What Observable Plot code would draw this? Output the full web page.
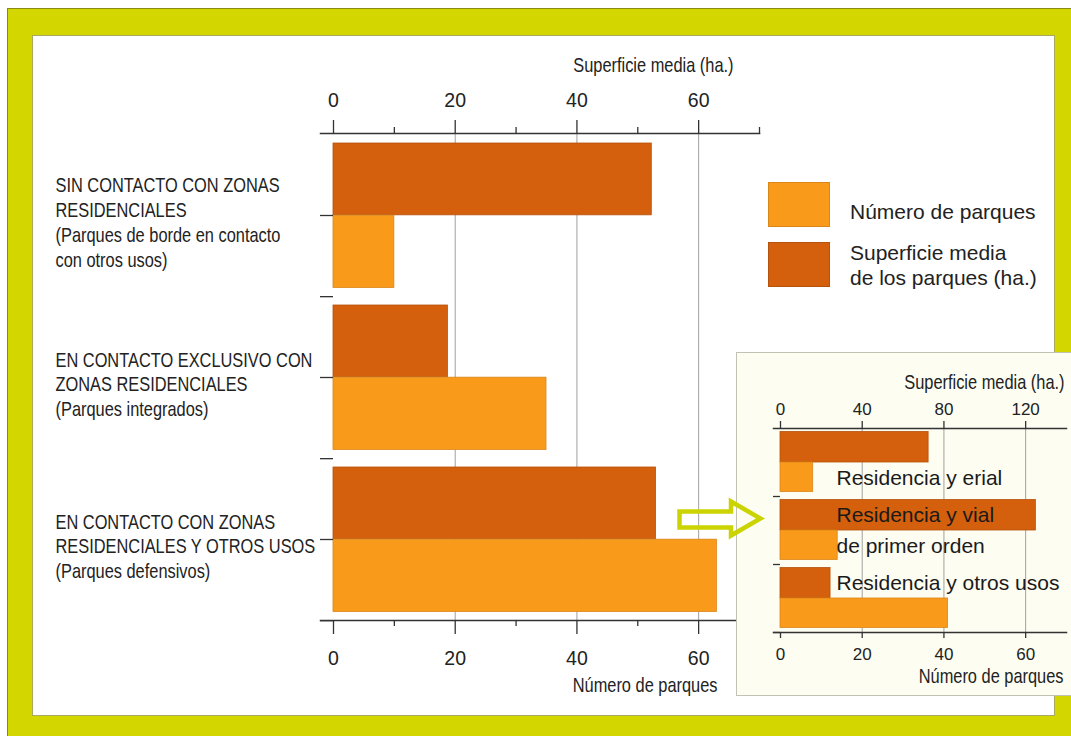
<!DOCTYPE html>
<html>
<head>
<meta charset="utf-8">
<script src="https://cdn.jsdelivr.net/npm/d3@7"></script>
<script src="https://cdn.jsdelivr.net/npm/@observablehq/plot@0.6"></script>
<style>
html, body { margin: 0; padding: 0; background: #fff; }
#page { position: relative; width: 1071px; height: 736px; overflow: hidden;
  font-family: "Liberation Sans", Arial, sans-serif; color: #222; }
.abs { position: absolute; box-sizing: border-box; }
#frame { left: 7px; top: 8px; width: 1064px; height: 728px; background: #d4d600;
  border-top: 1px solid #8a8a10; border-left: 1px solid #8a8a10; }
#panel { left: 32px; top: 35px; width: 1023px; height: 681px; background: #fff;
  border: 1px solid #a8a860; }
#insetbox { left: 736px; top: 352px; width: 340px; height: 344px; background: #fdfdf2;
  border: 1px solid #c2c2b2; }
.layer { position: absolute; left: 0; top: 0; }
.legtext { position: absolute; font-size: 21px; line-height: 25px; color: #222; white-space: nowrap; }
</style>
</head>
<body>
<div id="page">
  <div id="frame" class="abs"></div>
  <div id="panel" class="abs"></div>
  <div id="mainLayer" class="layer"></div>
  <div id="legend" class="layer"></div>
  <div id="insetbox" class="abs"></div>
  <div id="insetLayer" class="layer"></div>
  <svg class="layer" width="1071" height="736" style="pointer-events:none">
    <path d="M679.5,511.5 L731,511.5 L731,501.5 L760.5,518.5 L731,535.5 L731,527.5 L679.5,527.5 Z"
      fill="none" stroke="#cbd400" stroke-width="4.5" stroke-linejoin="miter"/>
  </svg>
</div>
<script>
// ---------- data: main chart ----------
const categories = ["sin", "exclusivo", "mixto"];
const categoryLabels = [
  "SIN CONTACTO CON ZONAS\nRESIDENCIALES\n(Parques de borde en contacto\ncon otros usos)",
  "EN CONTACTO EXCLUSIVO CON\nZONAS RESIDENCIALES\n(Parques integrados)",
  "EN CONTACTO CON ZONAS\nRESIDENCIALES Y OTROS USOS\n(Parques defensivos)"
];
const superficieMedia = [52.3, 18.8, 53];   // ha.
const numeroParques = [10, 35, 63];
const superficieTicks = [0, 20, 40, 60];
const numeroTicks = [0, 20, 40, 60];

// ---------- data: inset ----------
const insetCategories = ["erial", "vial", "otros"];
const insetSuperficie = [72.5, 125, 24.5];  // ha.
const insetNumero = [8, 14, 41];
const insetSuperficieTicks = [0, 40, 80, 120];
const insetNumeroTicks = [0, 20, 40, 60];
const insetLabelCats = ["erial", "vial", "vial", "otros"];
const insetLabelBars = ["numero", "superficie", "numero", "superficie"];
const insetLabelTexts = ["Residencia y erial", "Residencia y vial", "de primer orden", "Residencia y otros usos"];

// ---------- legend ----------
const seriesNames = ["Número de parques", "Superficie media\nde los parques (ha.)"];

// ---------- styling ----------
const LIGHT = "#f99a1a", LIGHT_EDGE = "#d9861a";
const DARK = "#d45f0c", DARK_EDGE = "#b5520c";
const seriesColors = [LIGHT, DARK];
const seriesEdges = [LIGHT_EDGE, DARK_EDGE];
const SANS = '"Liberation Sans", Arial, sans-serif';
const AXIS = "#333";
const GRID = "#a0a0a0";
const W = 1071, H = 736;

// ---------- main chart ----------
const M = {left: 333, right: 759, top: 133, bottom: 620};
const bw = (M.bottom - M.top) / categories.length;
const mainData = categories.map((c, i) => ({cat: c, label: categoryLabels[i], sup: superficieMedia[i], num: numeroParques[i]}));

const mainPlot = Plot.plot({
  width: W, height: H,
  marginLeft: M.left, marginRight: W - M.right, marginTop: M.top, marginBottom: H - M.bottom,
  style: {background: "transparent", fontFamily: SANS, color: AXIS, overflow: "visible"},
  x: {domain: [0, 70]},
  y: {domain: categories, padding: 0},
  marks: [
    Plot.gridX(numeroTicks.filter(d => d > 0), {stroke: GRID, strokeOpacity: 1, strokeWidth: 1}),
    Plot.barX(mainData, {y: "cat", x: "sup", fill: DARK, stroke: DARK_EDGE, strokeWidth: 0.8, insetTop: 9, insetBottom: bw / 2}),
    Plot.barX(mainData, {y: "cat", x: "num", fill: LIGHT, stroke: LIGHT_EDGE, strokeWidth: 0.8, insetTop: bw / 2, insetBottom: 8.5}),
    Plot.frame({anchor: "top", stroke: AXIS, strokeWidth: 1.5, insetLeft: -13}),
    Plot.frame({anchor: "bottom", stroke: AXIS, strokeWidth: 1.5, insetLeft: -13}),
    Plot.axisX({anchor: "top", ticks: [10, 30, 50, 70], tickSize: 7, tickFormat: () => "", label: null, strokeWidth: 1.3}),
    Plot.axisX({anchor: "top", ticks: superficieTicks, tickSize: 14, tickPadding: 13, fontSize: 19.5, label: null, strokeWidth: 1.3, fill: "#222"}),
    Plot.axisX({anchor: "bottom", ticks: [10, 30, 50], tickSize: 6, tickFormat: () => "", label: null, strokeWidth: 1.3}),
    Plot.axisX({anchor: "bottom", ticks: numeroTicks, tickSize: 14, tickPadding: 17, fontSize: 19.5, label: null, strokeWidth: 1.3, fill: "#222"}),
    Plot.axisY({tickSize: 13, tickFormat: () => "", label: null, strokeWidth: 1.3}),
    Plot.axisY({tickSize: 13, tickFormat: () => "", label: null, strokeWidth: 1.3, dy: bw / 2}),
    Plot.text(mainData, {y: "cat", text: "label", frameAnchor: "left", textAnchor: "start", dx: 55 - M.left, dy: 6,
      lineAnchor: "middle", lineHeight: 1.24, fontSize: 20, fill: "#222", className: "narrow"}),
    Plot.text(["Superficie media (ha.)"], {text: d => d, frameAnchor: "top-left", textAnchor: "end", lineAnchor: "middle",
      dx: 733 - M.left, dy: 65 - M.top, fontSize: 20, fill: "#222", className: "narrow"}),
    Plot.text(["Número de parques"], {text: d => d, frameAnchor: "bottom-left", textAnchor: "end", lineAnchor: "middle",
      dx: 717 - M.left, dy: 685 - M.bottom, fontSize: 20, fill: "#222", className: "narrow"})
  ]
});
document.getElementById("mainLayer").append(mainPlot);

// ---------- legend (HTML) ----------
const legend = d3.select("#legend");
const swTop = [182, 242], txtTop = [198.5, 239.5];
seriesNames.forEach((name, i) => {
  legend.append("div").attr("class", "abs")
    .style("left", "768px").style("top", swTop[i] + "px").style("width", "62px").style("height", "45px")
    .style("background", seriesColors[i]).style("border", "1px solid " + seriesEdges[i]);
  legend.append("div").attr("class", "legtext")
    .style("left", "850px").style("top", txtTop[i] + "px")
    .html(name.replace("\n", "<br>"));
});

// ---------- inset chart ----------
const I = {left: 780, right: 1066, top: 428, bottom: 632};
const ibw = (I.bottom - I.top) / insetCategories.length;
const ratio = 2; // ha. per unit of the "Número de parques" axis
const insetData = insetCategories.map((c, i) => ({cat: c, sup: insetSuperficie[i], num: insetNumero[i]}));
const insetLabels = insetLabelTexts.map((t, i) => ({cat: insetLabelCats[i], bar: insetLabelBars[i], text: t}));

const insetPlot = Plot.plot({
  width: W, height: H,
  marginLeft: I.left, marginRight: W - I.right, marginTop: I.top, marginBottom: H - I.bottom,
  style: {background: "transparent", fontFamily: SANS, color: AXIS, overflow: "visible"},
  x: {domain: [0, 70]},
  y: {domain: insetCategories, padding: 0},
  marks: [
    Plot.gridX(insetNumeroTicks.filter(d => d > 0), {stroke: GRID, strokeOpacity: 1, strokeWidth: 1}),
    Plot.barX(insetData, {y: "cat", x: d => d.sup / ratio, fill: DARK, stroke: DARK_EDGE, strokeWidth: 0.8, insetTop: 3.5, insetBottom: ibw / 2}),
    Plot.barX(insetData, {y: "cat", x: "num", fill: LIGHT, stroke: LIGHT_EDGE, strokeWidth: 0.8, insetTop: ibw / 2, insetBottom: 4.5}),
    Plot.frame({anchor: "top", stroke: AXIS, strokeWidth: 1.5, insetLeft: -7}),
    Plot.frame({anchor: "bottom", stroke: AXIS, strokeWidth: 1.5, insetLeft: -7}),
    Plot.axisX({anchor: "top", ticks: insetSuperficieTicks.map(v => v / ratio), tickFormat: v => v * ratio,
      tickSize: 8, tickPadding: 6, fontSize: 17, label: null, strokeWidth: 1.3, fill: "#222"}),
    Plot.axisX({anchor: "bottom", ticks: insetNumeroTicks, tickSize: 6, tickPadding: 9, fontSize: 17, label: null, strokeWidth: 1.3, fill: "#222"}),
    Plot.axisY({tickSize: 7, tickFormat: () => "", label: null, strokeWidth: 1.3, dy: ibw / 2}),
    Plot.text(insetLabels.filter(d => d.bar === "superficie"), {y: "cat", text: "text", frameAnchor: "left", textAnchor: "start",
      dx: 836 - I.left, dy: -ibw / 4 + 2, fontSize: 21, fill: "#1a1a1a"}),
    Plot.text(insetLabels.filter(d => d.bar === "numero"), {y: "cat", text: "text", frameAnchor: "left", textAnchor: "start",
      dx: 836 - I.left, dy: ibw / 4 - 1, fontSize: 21, fill: "#1a1a1a"}),
    Plot.text(["Superficie media (ha.)"], {text: d => d, frameAnchor: "top-left", textAnchor: "end", lineAnchor: "middle",
      dx: 1064 - I.left, dy: 382 - I.top, fontSize: 20, fill: "#222", className: "narrow"}),
    Plot.text(["Número de parques"], {text: d => d, frameAnchor: "bottom-left", textAnchor: "end", lineAnchor: "middle",
      dx: 1063 - I.left, dy: 676 - I.bottom, fontSize: 20, fill: "#222", className: "narrow"})
  ]
});
document.getElementById("insetLayer").append(insetPlot);

// Condense the "narrow" texts (Arial Narrow look) since no narrow face is installed:
// a horizontal scale about each text's own anchor point.
const CONDENSE = 0.82;
document.querySelectorAll(".narrow text").forEach(t => {
  const tr = t.getAttribute("transform");
  if (tr && /translate/.test(tr) && !t.hasAttribute("x")) {
    t.setAttribute("transform", tr + ` scale(${CONDENSE},1)`);
  } else {
    const x = +t.getAttribute("x") || 0, y = +t.getAttribute("y") || 0;
    t.setAttribute("transform", (tr || "") + ` translate(${x},${y}) scale(${CONDENSE},1) translate(${-x},${-y})`);
  }
});
</script>
</body>
</html>
